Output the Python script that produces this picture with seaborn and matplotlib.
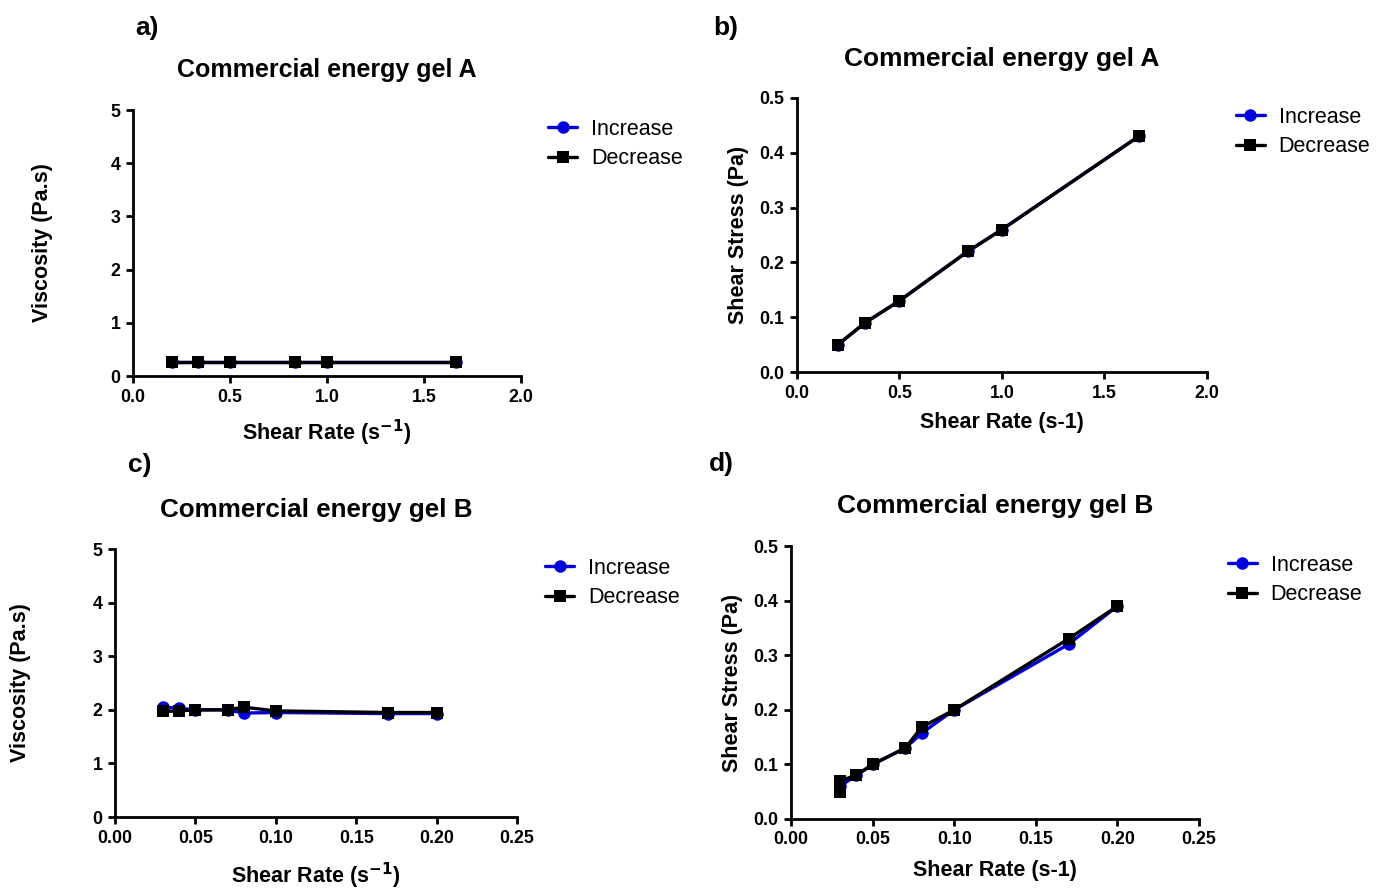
import seaborn as sns
import pandas as pd
import matplotlib.pyplot as plt

# gel A: shear rate sweep
rate_a = [0.2, 0.333, 0.5, 0.833, 1.0, 1.667]
visc_a_inc = [0.26, 0.26, 0.26, 0.26, 0.26, 0.26]
visc_a_dec = [0.26, 0.26, 0.26, 0.26, 0.26, 0.26]
stress_a_inc = [0.05, 0.09, 0.13, 0.22, 0.26, 0.43]
stress_a_dec = [0.05, 0.09, 0.13, 0.22, 0.26, 0.43]

# gel B
rate_b = [0.03, 0.04, 0.05, 0.07, 0.08, 0.10, 0.17, 0.20]
visc_b_inc = [2.05, 2.03, 2.00, 2.00, 1.94, 1.95, 1.93, 1.93]
visc_b_dec = [1.97, 1.98, 2.00, 2.00, 2.05, 1.98, 1.95, 1.95]
rate_b_dec = [0.03, 0.03, 0.04, 0.05, 0.07, 0.08, 0.10, 0.17, 0.20]
stress_b_inc = [0.06, 0.08, 0.10, 0.13, 0.157, 0.20, 0.32, 0.39]
stress_b_dec = [0.05, 0.07, 0.08, 0.10, 0.13, 0.168, 0.20, 0.33, 0.39]

sns.set_style("ticks", {"axes.edgecolor": "black", "xtick.color": "black",
                        "ytick.color": "black", "text.color": "black",
                        "axes.labelcolor": "black"})
plt.rcParams['font.family'] = ['Liberation Sans', 'DejaVu Sans']

fig = plt.figure(figsize=(13.8, 8.9), dpi=100)

panels = [
    dict(pos=[0.0964, 0.5775, 0.2811, 0.2989], label='a)', lab_xy=(0.098, 0.968),
         title='Commercial energy gel A', title_y=0.921, title_fs=18,
         x_inc=rate_a, y_inc=visc_a_inc, x_dec=rate_a, y_dec=visc_a_dec,
         xlim=(0, 2), xticks=[0, 0.5, 1.0, 1.5, 2.0], xfmt='{:.1f}',
         ylim=(0, 5), yticks=[0, 1, 2, 3, 4, 5], yfmt='{:.0f}',
         xlabel='Shear Rate (s$^{\\mathbf{-1}}$)', ylabel='Viscosity (Pa.s)',
         xl_y=-0.214, yl_x=-0.2345),
    dict(pos=[0.5775, 0.5820, 0.2971, 0.3079], label='b)', lab_xy=(0.517, 0.968),
         title='Commercial energy gel A', title_y=0.934, title_fs=19,
         x_inc=rate_a, y_inc=stress_a_inc, x_dec=rate_a, y_dec=stress_a_dec,
         xlim=(0, 2), xticks=[0, 0.5, 1.0, 1.5, 2.0], xfmt='{:.1f}',
         ylim=(0, 0.5), yticks=[0, 0.1, 0.2, 0.3, 0.4, 0.5], yfmt='{:.1f}',
         xlabel='Shear Rate (s-1)', ylabel='Shear Stress (Pa)',
         xl_y=-0.186, yl_x=-0.142),
    dict(pos=[0.0833, 0.0820, 0.2913, 0.3011], label='c)', lab_xy=(0.093, 0.477),
         title='Commercial energy gel B', title_y=0.427, title_fs=18.7,
         x_inc=rate_b, y_inc=visc_b_inc, x_dec=rate_b, y_dec=visc_b_dec,
         xlim=(0, 0.25), xticks=[0, 0.05, 0.10, 0.15, 0.20, 0.25], xfmt='{:.2f}',
         ylim=(0, 5), yticks=[0, 1, 2, 3, 4, 5], yfmt='{:.0f}',
         xlabel='Shear Rate (s$^{\\mathbf{-1}}$)', ylabel='Viscosity (Pa.s)',
         xl_y=-0.22, yl_x=-0.236),
    dict(pos=[0.5732, 0.0798, 0.2957, 0.3067], label='d)', lab_xy=(0.514, 0.479),
         title='Commercial energy gel B', title_y=0.431, title_fs=19,
         x_inc=rate_b, y_inc=stress_b_inc, x_dec=rate_b_dec, y_dec=stress_b_dec,
         xlim=(0, 0.25), xticks=[0, 0.05, 0.10, 0.15, 0.20, 0.25], xfmt='{:.2f}',
         ylim=(0, 0.5), yticks=[0, 0.1, 0.2, 0.3, 0.4, 0.5], yfmt='{:.1f}',
         xlabel='Shear Rate (s-1)', ylabel='Shear Stress (Pa)',
         xl_y=-0.19, yl_x=-0.143),
]

for p in panels:
    ax = fig.add_axes(p['pos'])
    df_inc = pd.DataFrame({'x': p['x_inc'], 'y': p['y_inc']})
    df_dec = pd.DataFrame({'x': p['x_dec'], 'y': p['y_dec']})
    sns.lineplot(data=df_inc, x='x', y='y', ax=ax, color='#0000dd', marker='o',
                 markersize=9, markeredgewidth=0, linewidth=2.4, label='Increase',
                 sort=False, estimator=None)
    sns.lineplot(data=df_dec, x='x', y='y', ax=ax, color='black', marker='s',
                 markersize=8.5, markeredgewidth=0, linewidth=2.4, label='Decrease',
                 sort=False, estimator=None)
    ax.set_xlim(p['xlim'])
    ax.set_ylim(p['ylim'])
    ax.set_xticks(p['xticks'])
    ax.set_yticks(p['yticks'])
    ax.set_xticklabels([p['xfmt'].format(v) for v in p['xticks']], fontweight='bold', fontsize=12.8)
    ax.set_yticklabels([p['yfmt'].format(v) for v in p['yticks']], fontweight='bold', fontsize=12.8)
    ax.set_xlabel(p['xlabel'], fontsize=15.5, fontweight='bold', va='center')
    ax.set_ylabel(p['ylabel'], fontsize=15.5, fontweight='bold', va='center')
    ax.xaxis.set_label_coords(0.5, p['xl_y'])
    ax.yaxis.set_label_coords(p['yl_x'], 0.5)
    sns.despine(ax=ax)
    for s in ['left', 'bottom']:
        ax.spines[s].set_linewidth(2)
    ax.tick_params(width=2, length=5, direction='out', pad=4)
    for line in ax.lines:
        line.set_clip_on(False)
    ax.legend(loc='upper left', bbox_to_anchor=(1.07, 0.968), frameon=False,
              fontsize=15.5, handlelength=1.35, handletextpad=0.65, labelspacing=0.4,
              borderpad=0, borderaxespad=0)
    fig.text(p['pos'][0] + p['pos'][2] / 2, p['title_y'], p['title'], ha='center',
             va='center', fontsize=p['title_fs'], fontweight='bold')
    fig.text(p['lab_xy'][0], p['lab_xy'][1], p['label'], ha='left', va='center',
             fontsize=19, fontweight='bold')

fig.savefig('out.png', dpi=100)
